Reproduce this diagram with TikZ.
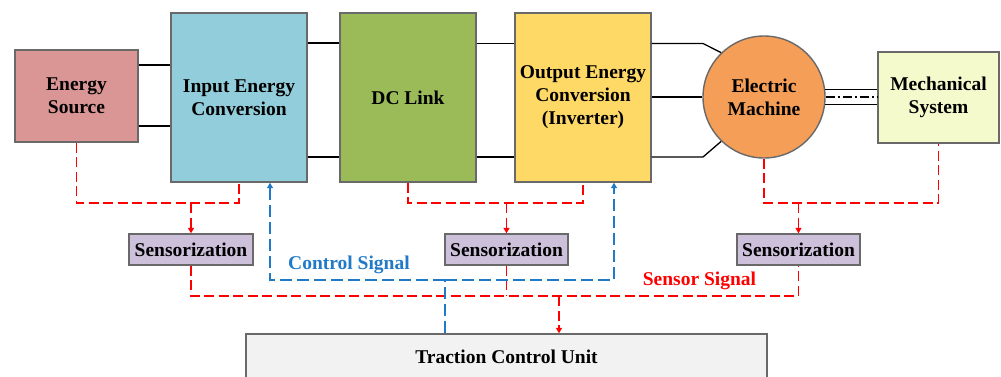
\documentclass[tikz,border=0pt]{standalone}
\usepackage{fontspec}
\setmainfont{Liberation Serif}
\usetikzlibrary{arrows.meta}

\definecolor{edgegray}{RGB}{105,105,105}
\definecolor{srcfill}{RGB}{217,150,148}
\definecolor{inpfill}{RGB}{146,205,220}
\definecolor{dcfill}{RGB}{155,187,89}
\definecolor{outfill}{RGB}{255,217,102}
\definecolor{emfill}{RGB}{244,158,88}
\definecolor{mechfill}{RGB}{244,250,204}
\definecolor{sensfill}{RGB}{204,192,218}
\definecolor{tcufill}{RGB}{242,242,242}
\definecolor{sigred}{RGB}{255,0,0}
\definecolor{sigblue}{RGB}{33,122,200}

\tikzset{
  lbl/.style={font=\fontsize{19.5}{23}\selectfont\bfseries, align=center, text=black},
  block/.style={lbl, draw=edgegray, line width=1.4pt, inner sep=0pt, rectangle},
  machine/.style={lbl, draw=edgegray, line width=1.4pt, inner sep=0pt, circle},
  power/.style={line width=1.3pt, black},
  sensline/.style={sigred, line width=1.5pt, dash pattern=on 10pt off 4.5pt},
  ctrlline/.style={sigblue, line width=1.5pt, dash pattern=on 12pt off 5pt},
  tip/.style={-{Triangle[length=5.5pt,width=6pt]}}
}

\begin{document}
\begin{tikzpicture}[x=1pt,y=-1pt]
\useasboundingbox (0,0) rectangle (1001,376);
\clip (0,0) rectangle (1001,376);

% power chain
\node[block, fill=srcfill, minimum width=123pt, minimum height=92pt] (es) at (76.5,96) {Energy\\Source};
\node[block, fill=inpfill, minimum width=136pt, minimum height=169pt] (iec) at (239,97.5) {Input Energy\\Conversion};
\node[block, fill=dcfill, minimum width=136pt, minimum height=169pt] (dc) at (408,97.5) {DC Link};
\node[block, fill=outfill, minimum width=136pt, minimum height=169pt] (out) at (583,97.5) {Output Energy\\Conversion\\(Inverter)};
\node[machine, fill=emfill, minimum size=122pt] (em) at (764,97) {Electric\\Machine};
\node[block, fill=mechfill, minimum width=121pt, minimum height=91pt] (ms) at (938.5,97.5) {Mechanical\\System};

% sensor blocks and controller
\node[block, fill=sensfill, minimum width=124pt, minimum height=31pt] (s1) at (191,249.5) {Sensorization};
\node[block, fill=sensfill, minimum width=123pt, minimum height=31pt] (s2) at (506.5,249.5) {Sensorization};
\node[block, fill=sensfill, minimum width=123pt, minimum height=31pt] (s3) at (798.5,249.5) {Sensorization};
\node[block, fill=tcufill, minimum width=521pt, minimum height=46pt] (tcu) at (506.5,357) {Traction Control Unit};

% DC conductors
\draw[power] (es.east |- 0,65) -- (iec.west |- 0,65);
\draw[power] (es.east |- 0,126) -- (iec.west |- 0,126);
\draw[power] (iec.east |- 0,43) -- (dc.west |- 0,43);
\draw[power] (iec.east |- 0,157) -- (dc.west |- 0,157);
\draw[power] (dc.east |- 0,43.5) -- (out.west |- 0,43.5);
\draw[power] (dc.east |- 0,157) -- (out.west |- 0,157);

% three-phase conductors
\coordinate (pa) at (703,43.5);
\coordinate (pc) at (703,157);
\draw[power] (out.east |- pa) -- (pa) -- (em.134);
\draw[power] (out.east |- em.west) -- (em.west);
\draw[power] (out.east |- pc) -- (pc) -- (em.226);

% shaft
\draw[power] (em.7) -- (em.7 -| ms.west);
\draw[power] (em.-7) -- (em.-7 -| ms.west);
\draw[black, line width=1.1pt, dash pattern=on 9pt off 3pt on 2pt off 3pt] (em.east) -- (em.east -| ms.west);

% measurements towards the sensor blocks
\draw[sensline] (es.south) -- (es.south |- 0,203) -- (iec.south |- 0,203) -- (iec.south);
\draw[sensline, tip] (s1.north |- 0,203) -- (s1.north);
\draw[sensline] (dc.south) -- (dc.south |- 0,203) -- (out.south |- 0,203) -- (out.south);
\draw[sensline, tip] (s2.north |- 0,203) -- (s2.north);
\draw[sensline] (em.south) -- (em.south |- 0,203) -- (ms.south |- 0,203) -- (ms.south);
\draw[sensline, tip] (s3.north |- 0,203) -- (s3.north);

% sensor signal bus
\coordinate (sj) at (559,296);
\draw[sensline] (s1.south) -- (s1.south |- sj) -- (s3.south |- sj) -- (s3.south);
\draw[sensline] (s2.south) -- (s2.south |- sj);
\draw[sensline, tip] (sj) -- (sj |- tcu.north);

% control signal bus
\coordinate (cj) at (445,280);
\coordinate (cl) at (270,280);
\coordinate (cr) at (614,280);
\draw[ctrlline] (cj |- tcu.north) -- (cj);
\draw[ctrlline, tip] (cj) -- (cl) -- (cl |- iec.south);
\draw[ctrlline, tip] (cj) -- (cr) -- (cr |- out.south);

% bus labels
\node[lbl, text=sigblue] (ctl) at (349,265) {Control Signal};
\node[lbl, text=sigred] (snl) at (699.5,281) {Sensor Signal};
\end{tikzpicture}
\end{document}
